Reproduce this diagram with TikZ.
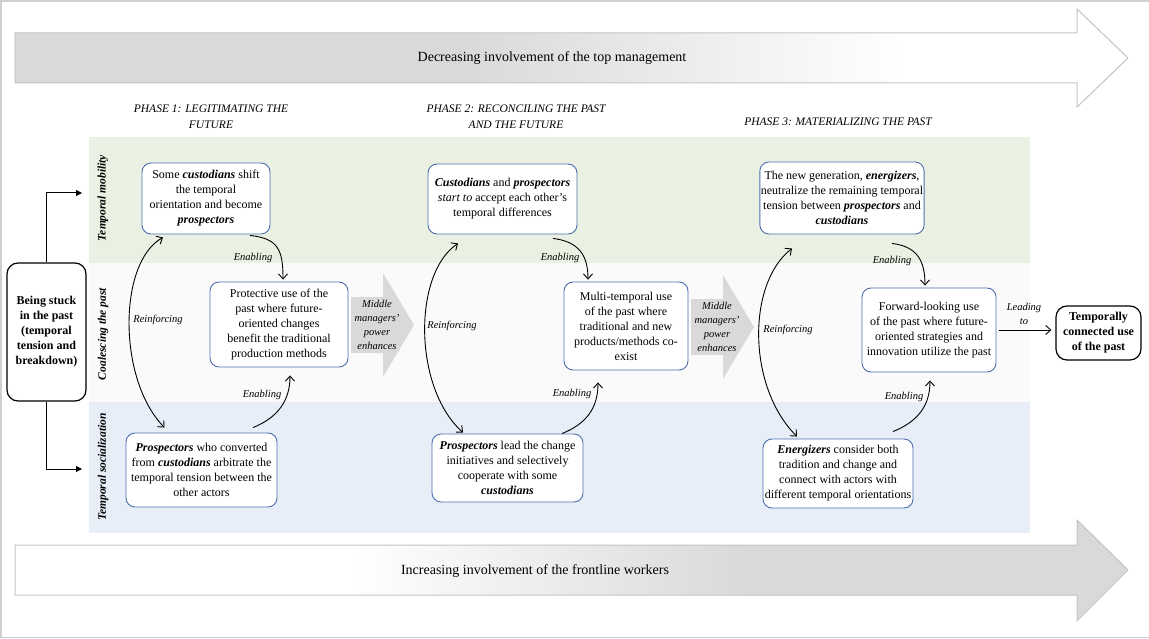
\documentclass[tikz,border=0pt]{standalone}
\usepackage{fontspec}
\setmainfont{Liberation Serif}
\usepackage{tikz}
\usetikzlibrary{arrows.meta}
\definecolor{boxblue}{HTML}{4F6FAE}
\definecolor{mobgreen}{HTML}{EBF1E2}
\definecolor{socblue}{HTML}{E7EEF7}
\definecolor{coalgray}{HTML}{FAFAFA}
\definecolor{arrowgray}{HTML}{D9D9D9}
\definecolor{edgegray}{HTML}{C4C4C4}
\pgfdeclarehorizontalshading{topfade}{100bp}{color(0bp)=(arrowgray); color(45bp)=(arrowgray); color(65bp)=(white); color(100bp)=(white)}
\pgfdeclarehorizontalshading{bottomfade}{100bp}{color(0bp)=(white); color(40bp)=(white); color(58bp)=(arrowgray); color(100bp)=(arrowgray)}
\newcommand{\actor}[1]{\textbf{\textit{#1}}}
\tikzset{
>={Straight Barb[length=5pt,width=9pt]},
  phasebox/.style={
    rectangle,
    rounded corners=9pt,
    draw=boxblue, line width=0.9pt,
    fill=white,
    inner sep=1pt,
    align=center,
    font=\fontsize{12}{15}\selectfont},
  endbox/.style={
    rectangle,
    rounded corners=11pt,
    draw=black, line width=1.2pt,
    fill=white,
    align=center,
    font=\fontsize{12}{15}\selectfont\bfseries},
  phasehead/.style={align=center, font=\fontsize{11.5}{15.5}\selectfont\itshape},
  rowlabel/.style={rotate=90, font=\fontsize{11.5}{14}\selectfont\bfseries\itshape},
  linklabel/.style={inner sep=1pt, align=center, font=\fontsize{10.5}{14}\selectfont\itshape},
  mgrtext/.style={inner sep=0pt, align=center, font=\fontsize{10.5}{13.8}\selectfont\itshape},
  bigtext/.style={font=\fontsize{14}{16}\selectfont},
  bigarrow/.style={draw=edgegray, line width=1pt},
  link/.style={draw, line width=0.9pt},
  feed/.style={draw, line width=1pt, -{Triangle[length=6pt,width=6pt]}},
}
\begin{document}
\begin{tikzpicture}[x=1pt, y=-1pt]
  \useasboundingbox (0,0) rectangle (1149,639);
  \draw[edgegray!80, line width=1.5pt] (1,1) rectangle (1155,637.5);

  % rows
  \fill[mobgreen] (89,137) rectangle (1030,263);
  \fill[coalgray] (89,263) rectangle (1030,402);
  \fill[socblue]  (89,402) rectangle (1030,533);

  % involvement arrows
  \shadedraw[bigarrow, shading=topfade] (15,33) -- (1077,33) -- (1077,9) -- (1128,58)
      -- (1077,107) -- (1077,83) -- (15,83) -- cycle;
  \node[bigtext] (TopManagement) at (552,58) {Decreasing involvement of the top management};
  \shadedraw[bigarrow, shading=bottomfade] (15,545) -- (1077,545) -- (1077,520) -- (1128,570)
      -- (1077,621) -- (1077,595) -- (15,595) -- cycle;
  \node[bigtext] (FrontlineWorkers) at (535,571) {Increasing involvement of the frontline workers};

  \node[phasehead] (PhaseOne)   at (211,117) {PHASE 1: LEGITIMATING THE\\FUTURE};
  \node[phasehead] (PhaseTwo)   at (516,117) {PHASE 2: RECONCILING THE PAST\\AND THE FUTURE};
  \node[phasehead] (PhaseThree) at (838,122) {PHASE 3: MATERIALIZING THE PAST};

  \node[rowlabel] (Mobility)      at (103,198) {Temporal mobility};
  \node[rowlabel] (Coalescing)    at (103,334) {Coalescing the past};
  \node[rowlabel] (Socialization) at (103,467) {Temporal socialization};

  \node[endbox, minimum width=79, minimum height=138] (Stuck) at (46.5,332)
       {Being stuck\\in the past\\(temporal\\tension and\\breakdown)};
  \coordinate (MobilityEntry) at (82,193);
  \coordinate (SocializationEntry) at (82,469);
  \draw[feed] (Stuck.north) |- (MobilityEntry);
  \draw[feed] (Stuck.south) |- (SocializationEntry);

  % middle managers
  \foreach \x/\y/\n in {351/325/PowerOne, 691/327/PowerTwo}{
    \fill[arrowgray] (\x,\y-28) -- (\x+32,\y-28) -- (\x+32,\y-52) -- (\x+63,\y)
        -- (\x+32,\y+52) -- (\x+32,\y+28) -- (\x,\y+28) -- cycle;
    \node[mgrtext] (\n) at (\x+26,\y) {Middle\\managers'\\power\\enhances};
  }

  % phase 1
  \node[phasebox, minimum width=128, minimum height=71] (MobilityOne) at (206,198.5)
       {Some \actor{custodians} shift\\the temporal\\orientation and become\\\actor{prospectors}};
  \node[phasebox, minimum width=138, minimum height=85] (CoalescingOne) at (279,324.5)
       {Protective use of the\\past where future-\\oriented changes\\benefit the traditional\\production methods};
  \node[phasebox, minimum width=151, minimum height=74] (SocializationOne) at (201.5,470)
       {\actor{Prospectors} who converted\\from \actor{custodians} arbitrate the\\temporal tension between the\\other actors};

  % phase 2
  \node[phasebox, minimum width=149, minimum height=70] (MobilityTwo) at (502.5,199)
       {\actor{Custodians} and \actor{prospectors}\\\textit{start to} accept each other's\\temporal differences};
  \node[phasebox, minimum width=124, minimum height=88] (CoalescingTwo) at (626,326)
       {Multi-temporal use\\of the past where\\traditional and new\\products/methods co-\\exist};
  \node[phasebox, minimum width=151, minimum height=68] (SocializationTwo) at (507.5,468)
       {\actor{Prospectors} lead the change\\initiatives and selectively\\cooperate with some\\\actor{custodians}};

  % phase 3
  \node[phasebox, minimum width=164, minimum height=72] (MobilityThree) at (842,198)
       {The new generation, \actor{energizers},\\neutralize the remaining temporal\\tension between \actor{prospectors} and\\\actor{custodians}};
  \node[phasebox, minimum width=134, minimum height=84] (CoalescingThree) at (929,330)
       {Forward-looking use\\of the past where future-\\oriented strategies and\\innovation utilize the past};
  \node[phasebox, minimum width=150, minimum height=69] (SocializationThree) at (838,473.5)
       {\actor{Energizers} consider both\\tradition and change and\\connect with actors with\\different temporal orientations};
  \node[endbox, minimum width=85, minimum height=54] (Connected) at (1098.5,333)
       {Temporally\\connected use\\of the past};

  % links
  \draw[link, <->] ([xshift=-43pt,yshift=-3pt]MobilityOne.south) .. controls +(-45,25) and +(-47,-48) .. ([xshift=-37pt,yshift=5pt]SocializationOne.north);
  \draw[link, ->] ([xshift=44pt,yshift=-1pt]MobilityOne.south) .. controls +(28,3) and +(0,-30) .. ([xshift=4pt,yshift=2pt]CoalescingOne.north);
  \draw[link, ->] ([xshift=51.5pt,yshift=5pt]SocializationOne.north) .. controls +(25,-10) and +(0,25) .. ([xshift=11pt,yshift=-8pt]CoalescingOne.south);
  \node[linklabel] (ReinforcingOne) at (158,320) {Reinforcing};
  \node[linklabel] (EnablingOneTop) at (253,258) {Enabling};
  \node[linklabel] (EnablingOneBot) at (262,395) {Enabling};

  \draw[link, <->] ([xshift=-44.5pt,yshift=-9pt]MobilityTwo.south) .. controls +(-45,30) and +(-50,-45) .. ([xshift=-44.5pt,yshift=1pt]SocializationTwo.north);
  \draw[link, ->] ([xshift=50.5pt,yshift=-4pt]MobilityTwo.south) .. controls +(25,3) and +(0,-25) .. ([xshift=-38pt,yshift=2pt]CoalescingTwo.north);
  \draw[link, ->] ([xshift=54.5pt]SocializationTwo.north) .. controls +(25,-10) and +(0,25) .. ([xshift=-28pt,yshift=-12pt]CoalescingTwo.south);
  \node[linklabel] (ReinforcingTwo) at (452,326) {Reinforcing};
  \node[linklabel] (EnablingTwoTop) at (560,258) {Enabling};
  \node[linklabel] (EnablingTwoBot) at (572,394) {Enabling};

  \draw[link, <->] ([xshift=-50pt,yshift=-14pt]MobilityThree.south) .. controls +(-45,35) and +(-50,-50) .. ([xshift=-41pt,yshift=2pt]SocializationThree.north);
  \draw[link, ->] ([xshift=50pt,yshift=-9pt]MobilityThree.south) .. controls +(25,3) and +(0,-25) .. ([xshift=-4pt,yshift=2pt]CoalescingThree.north);
  \draw[link, ->] ([xshift=55pt,yshift=7pt]SocializationThree.north) .. controls +(25,-10) and +(0,25) .. ([xshift=1pt,yshift=-8pt]CoalescingThree.south);
  \node[linklabel] (ReinforcingThree) at (788,330) {Reinforcing};
  \node[linklabel] (EnablingThreeTop) at (892,261) {Enabling};
  \node[linklabel] (EnablingThreeBot) at (904,397) {Enabling};

  \draw[link, ->] ([xshift=3pt]CoalescingThree.east) -- ([xshift=-4pt]CoalescingThree.east -| Connected.west);
  \node[linklabel] (LeadingTo) at (1024,314) {Leading\\to};
\end{tikzpicture}
\end{document}
